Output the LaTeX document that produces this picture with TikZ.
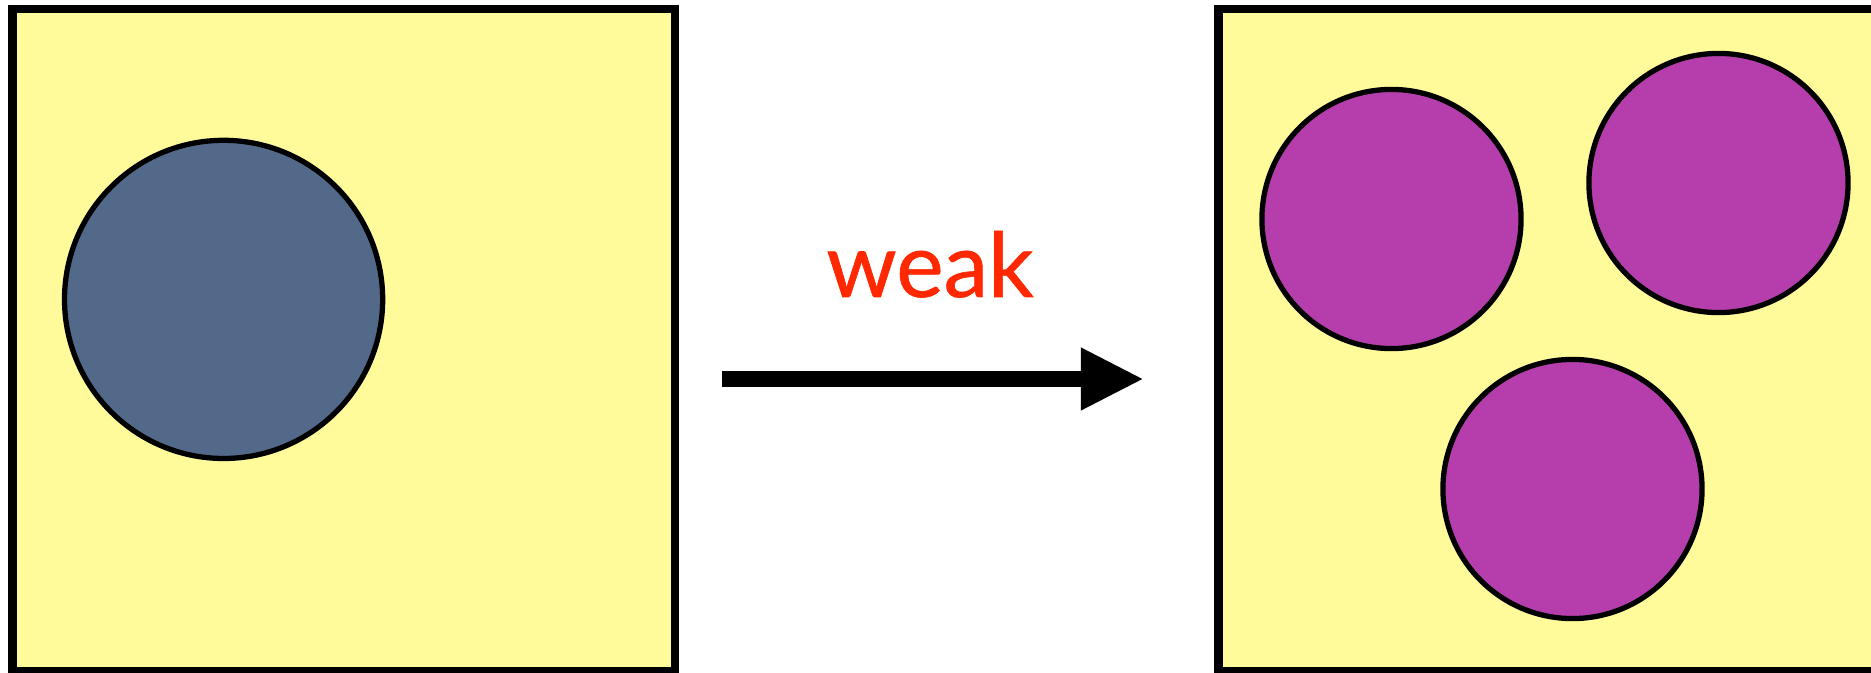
\documentclass[tikz,border=0pt]{standalone}
\usepackage{fontspec}
\setmainfont{Lato}
\newfontfamily\tagfont{Lato}[FakeBold=0.7]
\usetikzlibrary{arrows.meta}
\definecolor{paper}{RGB}{255,251,154}
\definecolor{slate}{RGB}{82,105,137}
\definecolor{plum}{RGB}{181,61,172}
\definecolor{labelred}{RGB}{255,40,0}
\begin{document}
\begin{tikzpicture}[x=0.01cm,y=-0.01cm,
  box/.style={draw=black,fill=paper,line width=2.4pt,inner sep=0pt,
    minimum width=6.625cm,minimum height=6.62cm},
  bigdrop/.style={circle,draw=black,fill=slate,line width=1.5pt,inner sep=0pt,
    minimum size=3.18cm},
  smalldrop/.style={circle,draw=black,fill=plum,line width=1.5pt,inner sep=0pt,
    minimum size=2.59cm},
  flow/.style={line width=4.55pt,-{Triangle[length=6.3mm,width=5.8mm]}},
  tag/.style={text=labelred,font=\tagfont\fontsize{25.5}{30}\selectfont,inner sep=0pt}]
\useasboundingbox (0,0) rectangle (1871,673);
\clip (0,0) rectangle (1871,673);

% before: one large drop in the box
\node[box] (before) at (343.75,340) {};
\node[bigdrop] (drop) at (223.6,299.4) {};

% after: three smaller drops
\node[box] (after) at (1549.75,340) {};
\node[smalldrop] (dropA) at (1391.5,219) {};
\node[smalldrop] (dropB) at (1718.5,183) {};
\node[smalldrop] (dropC) at (1572.5,489) {};

% transition arrow with its label
\coordinate (from) at (722,379);
\coordinate (to) at (1144,379);
\draw[flow] (from) -- (to);
\node[tag,anchor=base] (label) at (930,297) {weak};
\end{tikzpicture}
\end{document}
